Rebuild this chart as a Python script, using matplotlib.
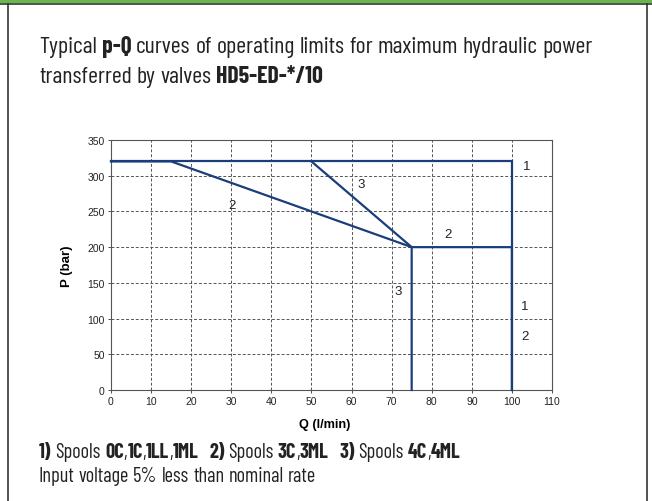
import matplotlib
matplotlib.use("Agg")
import matplotlib.pyplot as plt
from matplotlib.patches import Rectangle
from matplotlib.lines import Line2D
from matplotlib import font_manager as fm
from matplotlib.ft2font import FT2Font

# ---- Data ----
curve1_q = [0, 100, 100]
curve1_p = [320, 320, 0]
curve2_q = [0, 15, 75, 100, 100]
curve2_p = [320, 320, 200, 200, 0]
curve3_q = [50, 75, 75]
curve3_p = [320, 200, 0]

label_text = ["1", "3", "2", "2", "3", "1", "2"]
label_q = [103.7, 62.5, 30.2, 84, 71.5, 103.2, 103.2]
label_p = [314, 288, 259.5, 218, 138.6, 117.6, 76]

x_ticks = list(range(0, 111, 10))
y_ticks = list(range(0, 351, 50))

# rich text lines: words, each word = list of (text, bold)
title_line1 = [[("Typical", 0)], [("p-Q", 1)], [("curves", 0)], [("of", 0)], [("operating", 0)],
               [("limits", 0)], [("for", 0)], [("maximum", 0)], [("hydraulic", 0)], [("power", 0)]]
title_line2 = [[("transferred", 0)], [("by", 0)], [("valves", 0)], [("HD5-ED-*/10", 1)]]
note_line1 = [[("1)", 1)], [("Spools", 0)],
              [("0C", 1), (",", 0), ("1C", 1), (",", 0), ("1LL", 1), (",", 0), ("1ML", 1)], None,
              [("2)", 1)], [("Spools", 0)], [("3C", 1), (",", 0), ("3ML", 1)], None,
              [("3)", 1)], [("Spools", 0)], [("4C", 1), (",", 0), ("4ML", 1)]]
note_line2 = [[("Input", 0)], [("voltage", 0)], [("5%", 0)], [("less", 0)], [("than", 0)],
              [("nominal", 0)], [("rate", 0)]]

W, H = 652, 502
fig = plt.figure(figsize=(W / 100, H / 100), dpi=100)
renderer = fig.canvas.get_renderer()
TXT = "#222222"

candidates = ["Yanone Kaffeesatz", "Saira Extra Condensed", "Fira Sans Extra Condensed",
              "Sofia Sans Extra Condensed", "Encode Sans Compressed", "Oswald",
              "Roboto Condensed", "Saira Condensed", "Fira Sans Condensed",
              "IBM Plex Sans Condensed", "Encode Sans Condensed", "Sofia Sans Condensed",
              "Archivo Narrow", "PT Sans Narrow", "Asap Condensed", "Barlow Condensed"]

# static faces per family: weight -> file
faces = {}
for f in fm.fontManager.ttflist:
    if "[" in f.fname or f.style != "normal":
        continue
    faces.setdefault(f.name, {})[int(f.weight) if str(f.weight).isdigit() else f.weight] = f.fname


def fp(font, bold):
    return fm.FontProperties(fname=font[1] if bold else font[0])


def width_of(s, size, bold, font):
    t = fig.text(0, 0, s, fontproperties=fp(font, bold))
    t.set_fontsize(size)
    w = t.get_window_extent(renderer).width
    t.remove()
    return w


def line_width(words, size, font):
    sp = width_of("n n", size, 0, font) - width_of("nn", size, 0, font)
    w = 0
    for i, wd in enumerate(words):
        if wd is None:
            w += sp * 1.5
            continue
        if i > 0:
            w += sp
        for s, b in wd:
            w += width_of(s, size, b, font)
    return w


def draw_line(words, x, y, size, font):
    sp = width_of("n n", size, 0, font) - width_of("nn", size, 0, font)
    for i, wd in enumerate(words):
        if wd is None:
            x += sp * 1.5
            continue
        if i > 0:
            x += sp
        for s, b in wd:
            t = fig.text(x / W, 1 - y / H, s, fontproperties=fp(font, b),
                         va="baseline", color=TXT)
            t.set_fontsize(size)
            x += t.get_window_extent(renderer).width


def cap_ratio(path):
    f = FT2Font(path)
    os2 = f.get_sfnt_table("OS/2")
    cap = os2.get("capHeight", 0) if os2 else 0
    if not cap:
        cap = 0.7 * f.units_per_EM
    return cap / f.units_per_EM


best = None
for c in candidates:
    w = faces.get(c, {})
    reg = w.get(400) or w.get(500)
    bold = w.get(700) or w.get(600) or w.get(800)
    if not reg or not bold:
        continue
    font = (reg, bold)
    try:
        base = 17.0
        size = base * 554 / line_width(title_line1, base, font)
        cap_px = cap_ratio(reg) * size * 100 / 72
        err = abs(cap_px - 17)
        if best is None or err < best[0]:
            best = (err, font, size)
    except Exception:
        continue
FONT = best[1]
title_size = best[2]

# ---- frame decorations ----
fig.patches.append(Rectangle((0, 1 - 4 / H), 1, 4 / H, transform=fig.transFigure,
                             facecolor="#66b84a", edgecolor="none"))
fig.lines.append(Line2D([0, 1], [1 - 4.5 / H, 1 - 4.5 / H], transform=fig.transFigure,
                        color="#333333", lw=1.2))
fig.lines.append(Line2D([8 / W, 8 / W], [0, 1 - 4.5 / H], transform=fig.transFigure,
                        color="#333333", lw=1.2))
fig.lines.append(Line2D([647 / W, 647 / W], [0, 1 - 4.5 / H], transform=fig.transFigure,
                        color="#333333", lw=1.2))

# ---- chart ----
ax = fig.add_axes([111 / W, 1 - 391 / H, (552 - 111) / W, (391 - 141) / H])
col = "#1a3d7c"
for q, p in [(curve1_q, curve1_p), (curve2_q, curve2_p), (curve3_q, curve3_p)]:
    ax.plot(q, p, color=col, lw=1.6, solid_joinstyle="miter", clip_on=False, zorder=3)
for t, q, p in zip(label_text, label_q, label_p):
    ax.text(q, p, t, ha="center", va="center", fontsize=9.5, family="Liberation Sans",
            color="#222222", zorder=4)

ax.set_xlim(0, 110)
ax.set_ylim(0, 350)
ax.set_xticks(x_ticks)
ax.set_yticks(y_ticks)
ax.set_xticklabels([str(v) for v in x_ticks], family="Liberation Sans", fontsize=7.5)
ax.set_yticklabels([str(v) for v in y_ticks], family="Liberation Sans", fontsize=7.5)
ax.grid(True, linestyle=(0, (3, 2)), color="#555555", lw=0.7)
ax.tick_params(length=2.5, width=0.6, colors="#333333", labelcolor="#222222", pad=2)
for s in ax.spines.values():
    s.set_color("#555555")
    s.set_linewidth(0.8)
ax.set_xlabel("Q (l/min)", fontsize=9.2, fontweight="bold", family="Liberation Sans")
ax.set_ylabel("P (bar)", fontsize=9.5, fontweight="bold", family="Liberation Sans")
ax.xaxis.set_label_coords((325 - 111) / 441, -0.112)
ax.yaxis.set_label_coords(-0.086, 0.5)

# ---- title and notes ----
draw_line(title_line1, 39, 53, title_size, FONT)
draw_line(title_line2, 39, 83, title_size, FONT)
ns = 17.0 * 419 / line_width(note_line1, 17.0, FONT)
draw_line(note_line1, 39, 458, ns, FONT)
draw_line(note_line2, 39, 482, ns, FONT)

fig.savefig("out.png", dpi=100)
